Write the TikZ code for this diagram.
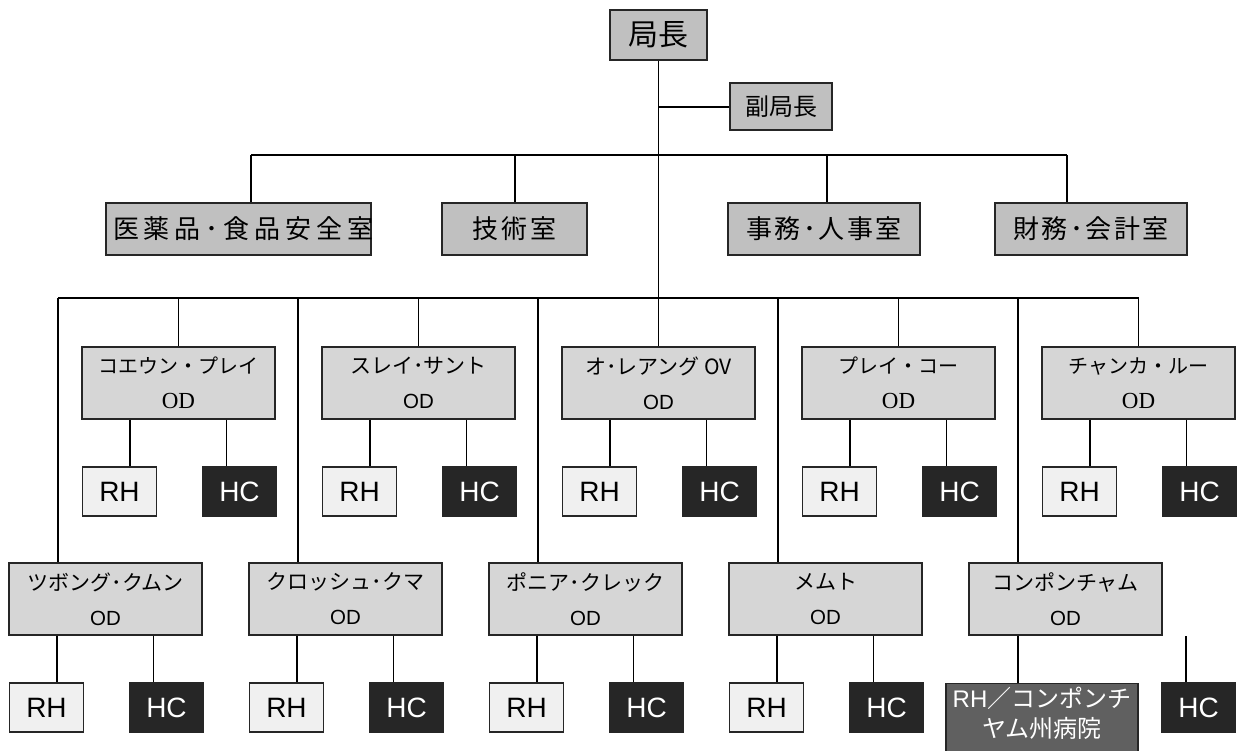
\documentclass[tikz,border=0pt]{standalone}
\usepackage{fontspec}
\setmainfont{Liberation Sans}
\newfontfamily\jp{Noto Sans CJK JP}
\newfontfamily\jpw{Noto Sans CJK JP}[LetterSpace=10]
\newfontfamily\jpww{Noto Sans CJK JP}[LetterSpace=19]
\newfontfamily\ser{Liberation Serif}
\definecolor{topgray}{HTML}{C0C0C0}
\definecolor{odgray}{HTML}{D6D6D6}
\definecolor{rhgray}{HTML}{F0F0F0}
\definecolor{hcgray}{HTML}{262626}
\definecolor{hospgray}{HTML}{606060}
\tikzset{
  box/.style={draw=black!85, line width=1.2pt, inner sep=0pt, align=center},
  topbox/.style={box, fill=topgray, minimum height=52pt, font=\jpw\fontsize{26}{30}\selectfont},
  odbox/.style={box, fill=odgray, minimum width=193pt, minimum height=72pt, font=\fontsize{20}{35}\selectfont},
  rhbox/.style={box, fill=rhgray, minimum width=74pt, minimum height=49pt, font=\fontsize{28}{30}\selectfont},
  hcbox/.style={box, fill=hcgray, text=white, minimum width=74pt, minimum height=49pt, font=\fontsize{28}{30}\selectfont},
  conn/.style={draw=black, line width=1.2pt}
}
\newcommand\sanstitle[1]{{\jp\fontsize{21}{35}\selectfont #1}\\{\fontsize{20.5}{35}\selectfont OD}}
\newcommand\seriftitle[1]{{\jp\fontsize{20}{35}\selectfont #1}\\{\ser\fontsize{23}{35}\selectfont OD}}
% #1 id, #2 left x, #3 top y, #4 content
\newcommand\odunit[4]{%
  \node[odbox] (#1) at (#2+96.5, #3+36) {#4};
  \node[rhbox] (#1rh) at (#2+37.5, #3+144.5) {RH};
  \node[hcbox] (#1hc) at (#2+157.5, #3+144.5) {HC};
  \draw[conn] ([xshift=48.5pt]#1.south west) -- ([xshift=48.5pt]#1.south west |- #1rh.north);
  \draw[conn] ([xshift=145pt]#1.south west) -- ([xshift=145pt]#1.south west |- #1hc.north);
}
\begin{document}
\begin{tikzpicture}[x=1pt,y=-1pt]
\useasboundingbox (0,0) rectangle (1244,751);
% top
\node[box, fill=topgray, minimum width=97pt, minimum height=50pt, font=\jp\fontsize{30}{34}\selectfont] (boss) at (658.5,35) {局長};
\node[box, fill=topgray, minimum width=102pt, minimum height=47pt, font=\jp\fontsize{24}{28}\selectfont] (dep) at (781,106.5) {副局長};
\node[topbox, minimum width=265pt, font=\jpww\fontsize{26}{30}\selectfont] (med) at (238.5,229) {\makebox[251pt][l]{医薬品･食品安全室}};
\node[topbox, minimum width=145pt] (tech) at (514.5,229) {技術室};
\node[topbox, minimum width=192pt] (adm) at (824,229) {事務･人事室};
\node[topbox, minimum width=192pt] (fin) at (1091,229) {財務･会計室};
\coordinate (hub) at (658.5,298);
\coordinate (dj) at (658.5,107);
\coordinate (hl) at (251,155);
\coordinate (ht) at (515,155);
\coordinate (ha) at (827,155);
\coordinate (hr) at (1067,155);
\draw[conn] (boss) -- (hub);
\draw[conn] (dj) -- (dep.west |- dj);
\draw[conn] (hl) -- (hr);
\draw[conn] (hl) -- (hl |- med.north);
\draw[conn] (ht) -- (ht |- tech.north);
\draw[conn] (ha) -- (ha |- adm.north);
\draw[conn] (hr) -- (hr |- fin.north);
% row line
\coordinate (rl) at (58,298);
\coordinate (rr) at (1139,298);
\draw[conn] (rl) -- (rr);
% row 1
\odunit{a}{82}{347}{\seriftitle{コエウン・プレイ}}
\odunit{b}{322}{347}{\sanstitle{スレイ･サント}}
\odunit{c}{562}{347}{\sanstitle{オ･レアング OV}}
\odunit{d}{802}{347}{\seriftitle{プレイ・コー}}
\odunit{e}{1042}{347}{\seriftitle{チャンカ・ルー}}
% row 2
\odunit{f}{9}{563}{\sanstitle{ツボング･クムン}}
\odunit{g}{249}{563}{\sanstitle{クロッシュ･クマ}}
\odunit{h}{489}{563}{\sanstitle{ポニア･クレック}}
\odunit{i}{729}{563}{\sanstitle{メムト}}
\node[odbox] (k) at (1065.5,599) {\sanstitle{コンポンチャム}};
\node[box, fill=hospgray, text=white, anchor=north, minimum width=192pt, inner ysep=4pt, text depth=12pt, font=\fontsize{24}{30}\selectfont] (khosp) at (1042,683) {RH{\jp ／コンポンチ}\\{\jp ヤム州病院}};
\node[hcbox] (khc) at (1198.5,707.5) {HC};
\coordinate (kb1) at (1018,636);
\coordinate (kb2) at (1186,636);
\draw[conn] (kb1) -- (kb1 |- khosp.north);
\draw[conn] (kb2) -- (kb2 |- khc.north);
% drops to the district offices
\foreach \n/\x in {a/178.5,b/418.5,c/658.5,d/898.5,e/1138.5}{
  \coordinate (t\n) at (\x,298);
  \draw[conn] (t\n) -- (t\n |- \n.north);
}
\foreach \n/\x in {f/58,g/298,h/538,i/778,k/1018}{
  \coordinate (t\n) at (\x,298);
  \draw[conn] (t\n) -- (t\n |- \n.north);
}
\end{tikzpicture}
\end{document}
